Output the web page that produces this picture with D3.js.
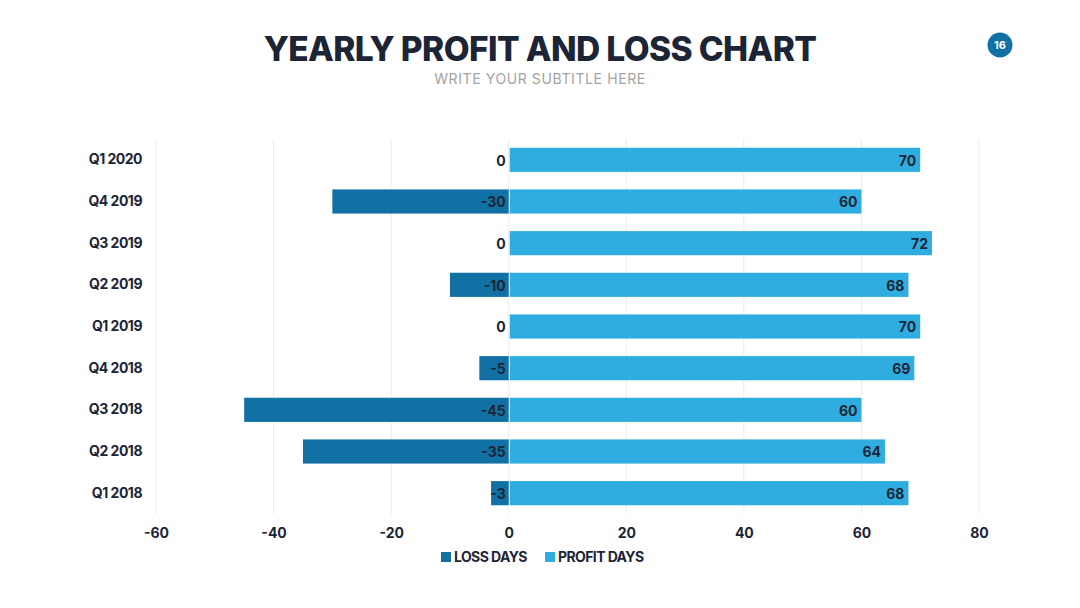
<!DOCTYPE html>
<html>
<head>
<meta charset="utf-8">
<script src="https://cdn.jsdelivr.net/npm/d3@7"></script>
<style>
  body { margin: 0; background: #fff; }
  svg { display: block; font-family: Inter, "Noto Sans", sans-serif; }
</style>
</head>
<body>
<div id="chart"></div>
<script>
// Data
const quarters = ["Q1 2020", "Q4 2019", "Q3 2019", "Q2 2019", "Q1 2019", "Q4 2018", "Q3 2018", "Q2 2018", "Q1 2018"];
const lossDays = [0, -30, 0, -10, 0, -5, -45, -35, -3];
const profitDays = [70, 60, 72, 68, 70, 69, 60, 64, 68];
const xTicks = [-60, -40, -20, 0, 20, 40, 60, 80];
const seriesNames = ["LOSS DAYS", "PROFIT DAYS"];

const width = 1080, height = 608;
const colors = { loss: "#1271a4", profit: "#2fade0" };
const dark = "#1c2536";

const svg = d3.select("#chart").append("svg")
    .attr("width", width)
    .attr("height", height);

// Title and subtitle
svg.append("text")
    .attr("x", 540).attr("y", 61)
    .attr("text-anchor", "middle")
    .attr("font-size", 33.5)
    .attr("font-weight", 800)
    .attr("letter-spacing", -0.6)
    .attr("fill", dark)
    .text("YEARLY PROFIT AND LOSS CHART");

svg.append("text")
    .attr("x", 540).attr("y", 84)
    .attr("text-anchor", "middle")
    .attr("font-size", 14)
    .attr("letter-spacing", 0.6)
    .attr("fill", "#a3a3a3")
    .text("WRITE YOUR SUBTITLE HERE");

// Page badge
svg.append("circle")
    .attr("cx", 1000).attr("cy", 45).attr("r", 12.5)
    .attr("fill", colors.loss);
svg.append("text")
    .attr("x", 1000).attr("y", 49)
    .attr("text-anchor", "middle")
    .attr("font-size", 11)
    .attr("font-weight", 700)
    .attr("fill", "#fff")
    .text("16");

// Scales
const x = d3.scaleLinear()
    .domain([-60, 80])
    .range([156, 979]);

const y = d3.scaleBand()
    .domain(quarters)
    .range([139, 514])
    .paddingInner(0.42)
    .paddingOuter(0.21);

// Gridlines
svg.append("g")
    .selectAll("line")
    .data(xTicks)
    .enter()
    .append("line")
    .attr("x1", d => x(d)).attr("x2", d => x(d))
    .attr("y1", 139).attr("y2", 514)
    .attr("stroke", "#ececec")
    .attr("stroke-width", 1);

// x axis
const xAxis = svg.append("g")
    .attr("transform", "translate(0, 514)")
    .call(d3.axisBottom(x).tickValues(xTicks).tickSize(0).tickPadding(14).tickFormat(d => d < 0 ? "-" + Math.abs(d) : d));
xAxis.select(".domain").remove();
xAxis.selectAll("text")
    .attr("font-family", "Inter, sans-serif")
    .attr("font-size", 14)
    .attr("font-weight", 700)
    .attr("fill", dark);

// y axis
const yAxis = svg.append("g")
    .attr("transform", "translate(142, 0)")
    .call(d3.axisLeft(y).tickSize(0).tickPadding(0));
yAxis.select(".domain").remove();
yAxis.selectAll("text")
    .attr("font-family", "Inter, sans-serif")
    .attr("font-size", 14)
    .attr("font-weight", 700)
    .attr("letter-spacing", -0.5)
    .attr("fill", dark);

// Loss bars
svg.append("g")
    .selectAll("rect")
    .data(lossDays)
    .enter()
    .append("rect")
    .attr("x", d => x(d))
    .attr("y", (_, i) => y(quarters[i]))
    .attr("width", d => x(0) - x(d))
    .attr("height", y.bandwidth())
    .attr("fill", colors.loss);

// Profit bars
svg.append("g")
    .selectAll("rect")
    .data(profitDays)
    .enter()
    .append("rect")
    .attr("x", x(0) + 1)
    .attr("y", (_, i) => y(quarters[i]))
    .attr("width", d => x(d) - x(0) - 1)
    .attr("height", y.bandwidth())
    .attr("fill", colors.profit);

// Labels
const labelStyle = sel => sel
    .attr("text-anchor", "end")
    .attr("dy", "0.35em")
    .attr("font-size", 14)
    .attr("font-weight", 700)
    .attr("fill", dark);

svg.append("g")
    .selectAll("text")
    .data(lossDays)
    .enter()
    .append("text")
    .attr("x", x(0) - 3)
    .attr("y", (_, i) => y(quarters[i]) + y.bandwidth() / 2 + 1)
    .call(labelStyle)
    .text(d => d < 0 ? "-" + Math.abs(d) : d);

svg.append("g")
    .selectAll("text")
    .data(profitDays)
    .enter()
    .append("text")
    .attr("x", d => x(d) - 4)
    .attr("y", (_, i) => y(quarters[i]) + y.bandwidth() / 2 + 1)
    .call(labelStyle)
    .text(d => d);

// Legend
const legend = svg.append("g").attr("transform", "translate(441, 557)");
const legendX = [0, 104];
seriesNames.forEach((name, i) => {
    const g = legend.append("g").attr("transform", `translate(${legendX[i]}, 0)`);
    g.append("rect")
        .attr("x", 0).attr("y", -5)
        .attr("width", 10).attr("height", 10)
        .attr("fill", i === 0 ? colors.loss : colors.profit);
    g.append("text")
        .attr("x", 13).attr("dy", "0.35em")
        .attr("font-size", 14)
        .attr("font-weight", 700)
        .attr("letter-spacing", -0.6)
        .attr("fill", dark)
        .text(name);
});
</script>
</body>
</html>
